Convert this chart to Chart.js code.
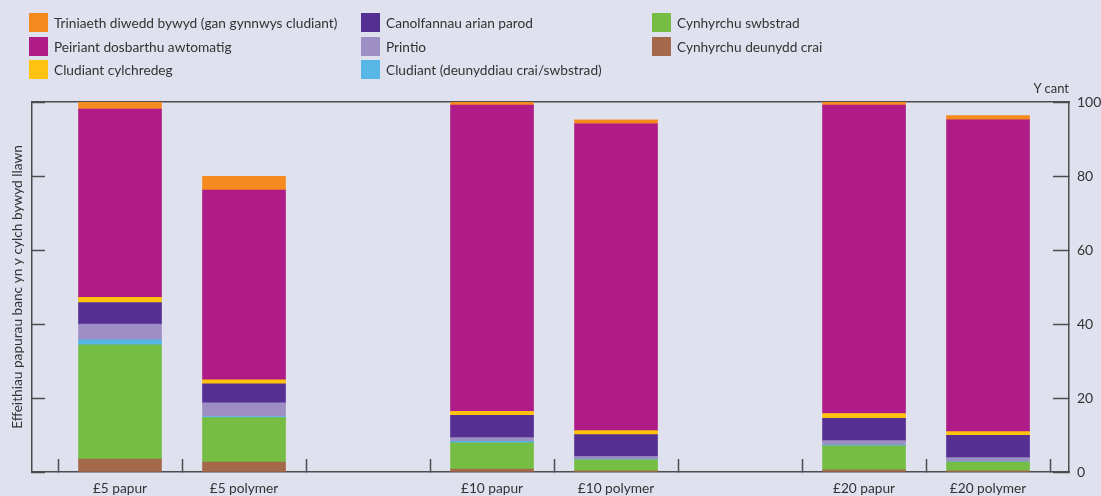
<!DOCTYPE html>
<html><head><meta charset="utf-8">
<script src="https://cdn.jsdelivr.net/npm/chart.js@4.4.1/dist/chart.umd.min.js"></script>
<style>
html,body{margin:0;padding:0;background:#dfe2ee;}
#wrap{position:relative;width:1101px;height:496px;overflow:hidden;font-family:Lato,sans-serif;color:#333;}
#c{position:absolute;left:0;top:0;}
.leg{position:absolute;display:flex;align-items:center;font-size:13.7px;white-space:nowrap;height:19px;}
.sw{width:19px;height:19px;margin-right:6px;flex:none;}
#unit{position:absolute;right:32px;top:80px;font-size:13px;}
</style></head>
<body><div id="wrap"><canvas id="c" width="1101" height="496"></canvas><div id="legend"></div><div id="unit">Y cant</div></div>
<script>
// categories (slots along the x axis; blank slots are gaps)
const categories = ['£5 papur', '£5 polymer', '', '£10 papur', '£10 polymer', '', '£20 papur', '£20 polymer'];
const yTicks = [0, 20, 40, 60, 80, 100];
const yTitle = 'Effeithiau papurau banc yn y cylch bywyd llawn';
const unitLabel = 'Y cant';

// series, stacked bottom → top; values per non-blank category
const rawMaterial   = [3.5, 2.7, 0.8, 0.3, 0.6, 0.3];   // Cynhyrchu deunydd crai
const substrate     = [30.9, 12.0, 7.1, 3.0, 6.5, 2.4]; // Cynhyrchu swbstrad
const transportRaw  = [1.3, 0.3, 0.4, 0.1, 0.2, 0.1];   // Cludiant (deunyddiau crai/swbstrad)
const printing      = [4.3, 3.7, 1.0, 0.8, 1.2, 1.1];   // Printio
const cashCentres   = [5.8, 5.1, 6.0, 5.9, 6.0, 6.0];   // Canolfannau arian parod
const circulation   = [1.4, 1.1, 1.1, 1.1, 1.3, 1.0];   // Cludiant cylchredeg
const atm           = [50.9, 51.3, 82.8, 82.9, 83.4, 84.3]; // Peiriant dosbarthu awtomatig
const endOfLife     = [1.9, 3.7, 0.8, 1.1, 0.8, 1.1];   // Triniaeth diwedd bywyd

const seriesNames = ['Cynhyrchu deunydd crai', 'Cynhyrchu swbstrad', 'Cludiant (deunyddiau crai/swbstrad)', 'Printio',
  'Canolfannau arian parod', 'Cludiant cylchredeg', 'Peiriant dosbarthu awtomatig', 'Triniaeth diwedd bywyd (gan gynnwys cludiant)'];
const seriesValues = [rawMaterial, substrate, transportRaw, printing, cashCentres, circulation, atm, endOfLife];
const seriesColors = ['#a4694a', '#76be43', '#56b7e6', '#9d8fc4', '#553092', '#ffc20e', '#b01c87', '#f58a1f'];

const barSlots = categories.map((c, i) => c ? i : -1).filter(i => i >= 0);

const datasets = seriesNames.map((name, s) => ({
  label: name,
  data: seriesValues[s].map((v, k) => ({ x: barSlots[k] + 0.5, y: v })),
  backgroundColor: seriesColors[s],
  borderWidth: 0,
  barThickness: 83,
  xAxisID: 'x',
  yAxisID: 'y'
}));

// HTML legend (column-major, top of stack first)
const legendOrder = seriesNames.map((n, i) => i).reverse();
const colX = [29, 361, 652], rowY = [13, 36.5, 60];
const legEl = document.getElementById('legend');
legendOrder.forEach((si, k) => {
  const col = Math.floor(k / 3), row = k % 3;
  const d = document.createElement('div');
  d.className = 'leg';
  d.style.left = colX[col] + 'px';
  d.style.top = rowY[row] + 'px';
  d.innerHTML = '<span class="sw" style="background:' + seriesColors[si] + '"></span><span></span>';
  d.lastChild.textContent = seriesNames[si];
  legEl.appendChild(d);
});
document.getElementById('unit').textContent = unitLabel;

const axisColor = '#4d4d4d';
const xMin = -0.2097, xMax = 8.153;

new Chart(document.getElementById('c'), {
  type: 'bar',
  data: { datasets },
  options: {
    responsive: false,
    animation: false,
    devicePixelRatio: 1,
    layout: { padding: { top: 102, left: 0, right: 0, bottom: 0 } },
    plugins: { legend: { display: false }, tooltip: { enabled: false } },
    scales: {
      x: {
        type: 'linear', position: 'bottom', stacked: true, offset: false, min: xMin, max: xMax,
        afterBuildTicks: s => { s.ticks = categories.map((c, i) => ({ value: i + 0.5 })); },
        ticks: { callback: (v, i) => categories[i], color: '#333', font: { family: 'Lato', size: 13.7 }, padding: 21, maxRotation: 0, autoSkip: false },
        grid: { offset: true, drawOnChartArea: false, tickLength: -13, tickColor: axisColor, tickWidth: 1.5 },
        border: { color: axisColor, width: 1.5 },
        afterFit: s => { s.height = 24; s.paddingLeft = 0; s.paddingRight = 0; }
      },
      xt: {
        type: 'linear', position: 'top', display: true, offset: false, min: xMin, max: xMax,
        ticks: { display: false },
        grid: { drawOnChartArea: false, drawTicks: false },
        border: { color: axisColor, width: 1.5 },
        afterFit: s => { s.height = 0; s.paddingLeft = 0; s.paddingRight = 0; }
      },
      y: {
        position: 'right', stacked: true, min: 0, max: 100,
        afterBuildTicks: s => { s.ticks = yTicks.map(v => ({ value: v })); },
        ticks: { color: '#333', font: { family: 'Lato', size: 14 }, padding: 24 },
        grid: { drawOnChartArea: false, tickLength: -16, tickColor: axisColor, tickWidth: 1.5 },
        border: { color: axisColor, width: 1.5 },
        afterFit: s => { s.width = 32; s.paddingTop = 0; s.paddingBottom = 0; }
      },
      yl: {
        position: 'left', display: true, min: 0, max: 100,
        afterBuildTicks: s => { s.ticks = yTicks.map(v => ({ value: v })); },
        ticks: { display: false },
        grid: { drawOnChartArea: false, tickLength: -13, tickColor: axisColor, tickWidth: 1.5 },
        border: { color: axisColor, width: 1.5 },
        title: { display: true, text: yTitle, color: '#333', font: { family: 'Lato', size: 13.7 }, padding: { top: 9, bottom: 0 } },
        afterFit: s => { s.width = 32; s.paddingTop = 0; s.paddingBottom = 0; }
      }
    }
  }
});
</script>
</body></html>
